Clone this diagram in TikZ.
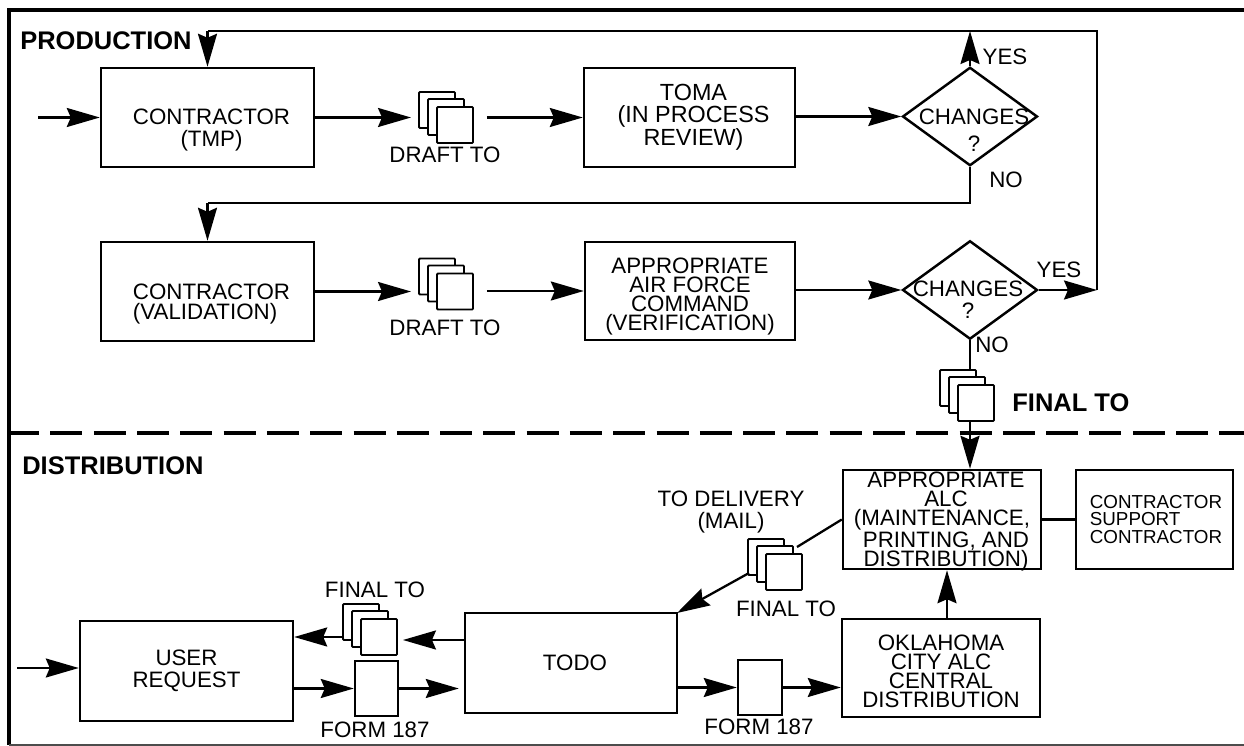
\documentclass[tikz,border=0pt]{standalone}
\usepackage{fontspec}
\setmainfont{Liberation Sans}
\usetikzlibrary{positioning,arrows.meta,shapes.geometric}
% three stacked sheets, given by the centre of the front one
\newcommand{\docstack}[3]{%
  \node[sheet] (#1b) at (#2-18,#3-15) {};
  \node[sheet] (#1m) at (#2-9,#3-8) {};
  \node[sheet] (#1f) at (#2,#3) {};
}
% small nudges for text inside a box
\newcommand{\txtdown}[1]{\mbox{}\\[#1]}
\newcommand{\sh}{\hspace*{0.16cm}}

\begin{document}
\begin{tikzpicture}[
    x=0.02cm, y=-0.02cm,
    txtsep/.style={font=\fontsize{12.7}{#1}\selectfont},
    procbox/.style={draw=black, line width=1.4pt, fill=white, align=center, inner sep=0pt, txtsep=12.5},
    sheet/.style={draw=black, line width=1.1pt, fill=white, rounded corners=0.5pt, minimum width=0.72cm, minimum height=0.72cm, inner sep=0pt},
    decide/.style={draw=black, line width=1.4pt, diamond, aspect=1.37, minimum width=2.7cm, minimum height=1.97cm, inner sep=0pt},
    lbl/.style={inner sep=0pt, align=center, txtsep=12.5},
    heading/.style={inner sep=0pt, font=\fontsize{14.5}{16}\selectfont\bfseries},
    wire/.style={draw=black, line width=1.3pt},
    flow/.style={wire, -{Stealth[length=0.66cm, width=0.38cm, inset=0.08cm]}}
  ]
    \useasboundingbox (0,0) rectangle (1244,746);

    % frame and divider
    \coordinate (ftl) at (9,10);
    \coordinate (ftr) at (1244,10);
    \coordinate (fbl) at (9,745);
    \coordinate (fbr) at (1244,745);
    \coordinate (dl) at (0,433);
    \coordinate (dr) at (1244,433);
    \draw[line width=2.6pt] (fbl) -- (ftl) -- (ftr);
    \draw[line width=0.8pt, black!70] (fbl) -- (fbr);
    \draw[line width=2pt, dash pattern=on 0.64cm off 0.226cm, dash phase=0.722cm] (dl) -- (dr);

    \node[heading, anchor=west] (prodhead) at (20,41) {PRODUCTION};
    \node[heading, anchor=west] (disthead) at (22,466) {DISTRIBUTION};

    % production, first row
    \node[procbox, minimum width=4.26cm, minimum height=1.98cm] (ctmp) at (207.5,117.5) {\txtdown{10.9pt}\sh CONTRACTOR\\\sh (TMP)};
    \docstack{sa}{455}{125}
    \node[lbl] (sal) at (445,155) {DRAFT TO};
    \node[procbox, minimum width=4.22cm, minimum height=1.98cm, font=\fontsize{13.3}{12}\selectfont] (toma) at (689.5,117.5) {\sh TOMA\\\sh (IN PROCESS\\\sh REVIEW)};
    \node[decide] (chga) at (970,116.5) {};
    \node[lbl] (chgat) at (974,130) {CHANGES\\[3pt]?};
    \node[lbl] (yesa) at (1005,57) {YES};
    \node[lbl] (noa) at (1006,180) {NO};

    % production, second row
    \node[procbox, minimum width=4.26cm, minimum height=1.98cm, align=left, txtsep=11.4] (cval) at (207.5,291.5) {\txtdown{11.4pt}\sh CONTRACTOR\\\sh (VALIDATION)};
    \docstack{sb}{455}{291.5}
    \node[lbl] (sbl) at (445,328) {DRAFT TO};
    \node[procbox, minimum width=4.2cm, minimum height=1.96cm, txtsep=10.8] (afc) at (690,291) {\txtdown{4.1pt}APPROPRIATE\\AIR FORCE\\COMMAND\\(VERIFICATION)};
    \node[decide] (chgb) at (970,290) {};
    \node[lbl] (chgbt) at (968,300) {CHANGES\\?};
    \node[lbl] (yesb) at (1059,270) {YES};
    \node[lbl] (nob) at (992,345) {NO};
    \docstack{sc}{976}{403}
    \node[heading, anchor=west] (scl) at (1012,403) {FINAL TO};

    % distribution
    \node[procbox, minimum width=3.96cm, minimum height=1.98cm] (alc) at (942,519.5) {};
    \node[lbl, txtsep=11] (alct) at (942,521.5) {\sh APPROPRIATE\\\sh ALC\\(MAINTENANCE,\\\sh PRINTING, AND\\\sh DISTRIBUTION)};
    \node[procbox, minimum width=3.14cm, minimum height=1.98cm, align=left, font=\fontsize{10.7}{10}\selectfont] (csc) at (1154.5,519.5) {\hspace*{0.06cm}CONTRACTOR\\\hspace*{0.06cm}SUPPORT\\\hspace*{0.06cm}CONTRACTOR};
    \node[procbox, minimum width=3.96cm, minimum height=1.96cm, txtsep=10.8] (oka) at (941,668) {\txtdown{1.8pt}OKLAHOMA\\CITY ALC\\CENTRAL\\DISTRIBUTION};
    \node[procbox, minimum width=4.24cm, minimum height=2cm] (todo) at (571,663) {\sh TODO};
    \node[procbox, minimum width=4.26cm, minimum height=2cm] (ureq) at (186.5,671) {USER\\REQUEST};
    \docstack{sd}{784}{572}
    \node[lbl] (sdl) at (786,609) {FINAL TO};
    \node[lbl] (sdt) at (731,512) {TO DELIVERY\\(MAIL)};
    \node[procbox, minimum width=0.88cm, minimum height=1.1cm] (fa) at (760,687.5) {};
    \node[lbl] (fal) at (759,727) {FORM 187};
    \docstack{se}{379}{637}
    \node[lbl] (sel) at (375,590) {FINAL TO};
    \node[procbox, minimum width=0.86cm, minimum height=1.1cm] (fb) at (376.5,688.5) {};
    \node[lbl] (fbt) at (375,730) {FORM 187};

    % connectors, production
    \coordinate (inb) at (38,117.5);
    \draw[flow] (inb) -- (ctmp.west);
    \draw[flow, shorten >=4pt] (ctmp.east) -- (ctmp.east -| sab.west);
    \draw[flow, shorten <=0.26cm] (toma.west -| saf.east) -- (toma.west);
    \draw[flow] (toma.east |- chga.west) -- (chga.west);
    \coordinate (rettop) at (1097,31);
    \coordinate (retlow) at (1097,290);
    \coordinate (retin) at (207.5,31);
    \draw[flow] (chga.north) -- (chga.north |- rettop);
    \draw[flow] (chgb.east) -- (retlow);
    \draw[wire] (retlow) -- (rettop) -- (retin);
    \draw[flow] (retin) -- (ctmp.north);
    \coordinate (noturn) at (207.5,203);
    \draw[wire] (chga.south) |- (noturn);
    \draw[flow] (noturn) -- (cval.north);
    \draw[flow, shorten >=4pt] (cval.east) -- (cval.east -| sbb.west);
    \draw[flow, shorten <=0.26cm] (afc.west -| sbf.east) -- (afc.west);
    \draw[flow] (afc.east |- chgb.west) -- (chgb.west);
    \draw[wire] (chgb.south) -- (chgb.south |- scb.north);
    \draw[flow] (chgb.south |- scf.south) -- (chgb.south |- alc.north);

    % connectors, distribution
    \draw[wire] (alc.east) -- (csc.west);
    \coordinate (okaout) at (947,619);
    \draw[flow] (okaout) -- (okaout |- alc.south);
    \coordinate (sdin) at (797,547);
    \draw[wire] (alc.west) -- (sdin);
    \coordinate (sdout) at (749,573);
    \coordinate (todoin) at (677,613);
    \draw[flow] (sdout) -- (todoin);
    \coordinate (todooutb) at (todo.east |- fa.west);
    \draw[flow] (todooutb) -- (fa.west);
    \draw[flow] (fa.east) -- (fa.east -| oka.west);
    \coordinate (todooutc) at (465,640);
    \draw[flow, shorten >=0.1cm] (todooutc) -- (todooutc -| sef.east);
    \coordinate (seout) at (343,637);
    \draw[flow] (seout) -- (seout -| ureq.east);
    \coordinate (ureqin) at (17,668);
    \draw[flow] (ureqin) -- (ureqin -| ureq.west);
    \coordinate (ureqout) at (293,688.5);
    \draw[flow] (ureqout) -- (fb.west);
    \draw[flow, shorten >=0.1cm] (fb.east) -- (fb.east -| todo.west);
  \end{tikzpicture}
\end{document}
